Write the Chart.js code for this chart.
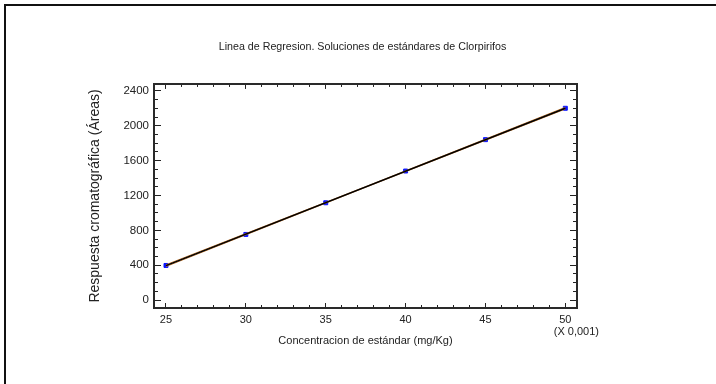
<!DOCTYPE html>
<html>
<head>
<meta charset="utf-8">
<script src="https://cdn.jsdelivr.net/npm/chart.js@4/dist/chart.umd.min.js"></script>
<style>
  html, body { margin: 0; padding: 0; background: #fff; }
  canvas { display: block; }
</style>
</head>
<body>
<canvas id="grafico" width="716" height="384"></canvas>
<script>
// Datos (concentracion en unidades de 0,001 mg/Kg)
const concentracion = [25, 30, 35, 40, 45, 50];
const areas = [398, 754, 1117, 1481, 1841, 2201];

// Recta ajustada y limites
const ajusteX = [25, 50];
const ajusteY = [396, 2202];
const limiteX = [25, 37.5, 50];
const limiteSup = [406, 1302, 2212];
const limiteInf = [386, 1295, 2192];

const xTicks = [25, 30, 35, 40, 45, 50];
const yTicks = [0, 400, 800, 1200, 1600, 2000, 2400];

const titulo = "Linea de Regresion. Soluciones de estándares de Clorpirifos";
const tituloX = "Concentracion de estándar (mg/Kg)";
const tituloY = "Respuesta cromatográfica (Áreas)";
const factorX = "(X 0,001)";

const SANS = "'Liberation Sans', Arial, sans-serif";
const INK = "#222";

const pares = (xs, ys) => xs.map((x, i) => ({x: x, y: ys[i]}));

// ejes con marcas hacia adentro; los "menor" solo ponen las marcas cortas
function ejeMarcas(pos, min, max, step, largo, borde, peso){
    return {
        type: "linear", position: pos, min: min, max: max, weight: peso,
        ticks: {display: false, stepSize: step, includeBounds: false},
        grid: {drawOnChartArea: false, tickLength: -largo, tickColor: INK, tickWidth: 1},
        border: {display: borde, color: "#2a2a2a", width: 2},
        afterFit: s => { if(s.isHorizontal()) s.height = 0; else s.width = 0; }
    };
}

const X_MIN = 24.25, X_MAX = 50.73, Y_MIN = -90, Y_MAX = 2480;

// marco exterior y nota del factor de escala
const marco = {
    id: "marco",
    beforeDraw(chart){
        const c = chart.ctx;
        c.save();
        c.fillStyle = "#fff"; c.fillRect(0, 0, chart.width, chart.height);
        c.strokeStyle = "#111"; c.lineWidth = 2;
        c.beginPath(); c.moveTo(5, chart.height); c.lineTo(5, 5); c.lineTo(chart.width, 5); c.stroke();
        c.restore();
    },
    afterDraw(chart){
        const c = chart.ctx, sx = chart.scales.x;
        c.save();
        c.font = "11px " + SANS; c.fillStyle = INK;
        c.textAlign = "center"; c.textBaseline = "middle";
        c.fillText(factorX, sx.getPixelForValue(xTicks[xTicks.length - 1]) + 11, 332);
        c.restore();
    }
};

new Chart(document.getElementById("grafico"), {
    type: "scatter",
    data: {
        datasets: [
            {label: "Ajuste", data: pares(ajusteX, ajusteY), showLine: true, borderColor: "#000", borderWidth: 1.6, pointRadius: 0},
            {label: "Lim. sup.", data: pares(limiteX, limiteSup), showLine: true, borderColor: "#c0742c", borderWidth: 1, pointRadius: 0},
            {label: "Lim. inf.", data: pares(limiteX, limiteInf), showLine: true, borderColor: "#c0742c", borderWidth: 1, pointRadius: 0},
            {label: "Areas", data: pares(concentracion, areas), pointStyle: "rect", pointRadius: 2.8, borderWidth: 1, backgroundColor: "#0a14ff", borderColor: "#0a14ff"}
        ]
    },
    options: {
        responsive: false, animation: false, events: [],
        layout: {padding: {left: 9, right: 0, top: 0, bottom: 0}},
        plugins: {
            legend: {display: false}, tooltip: {enabled: false},
            title: {display: true, text: titulo, color: INK, font: {family: SANS, size: 10.7, weight: "normal"}, padding: {top: 41.1, bottom: 30}}
        },
        scales: {
            x: {
                type: "linear", position: "bottom", min: X_MIN, max: X_MAX,
                afterBuildTicks: s => { s.ticks = xTicks.map(v => ({value: v})); },
                ticks: {color: INK, font: {family: SANS, size: 11}, padding: 10, maxRotation: 0, callback: v => String(v)},
                grid: {drawOnChartArea: false, tickLength: -5, tickColor: INK, tickWidth: 1},
                border: {color: "#2a2a2a", width: 2},
                title: {display: true, text: tituloX, color: INK, font: {family: SANS, size: 11}, padding: {top: 0, bottom: 36.4}},
                afterFit: s => { s.height = 76; }
            },
            y: {
                type: "linear", position: "left", min: Y_MIN, max: Y_MAX,
                afterBuildTicks: s => { s.ticks = yTicks.map(v => ({value: v})); },
                ticks: {color: INK, font: {family: SANS, size: 11.5}, padding: 12, callback: v => String(v)},
                grid: {drawOnChartArea: false, tickLength: -7, tickColor: INK, tickWidth: 1},
                border: {color: "#2a2a2a", width: 2},
                title: {display: true, text: tituloY, color: INK, font: {family: SANS, size: 14}, padding: {top: 78.2, bottom: 0}},
                afterFit: s => { s.width = 145; }
            },
            xMenor: ejeMarcas("bottom", X_MIN, X_MAX, 1, 3, false, -1),
            yMenor: ejeMarcas("left", Y_MIN, Y_MAX, 100, 4, false, -1),
            xSup: ejeMarcas("top", X_MIN, X_MAX, 5, 5, true, 0),
            xSupMenor: ejeMarcas("top", X_MIN, X_MAX, 1, 3, false, -1),
            ySup: Object.assign(ejeMarcas("right", Y_MIN, Y_MAX, 400, 7, true, 0), {afterFit: s => { s.width = 139; }}),
            ySupMenor: ejeMarcas("right", Y_MIN, Y_MAX, 100, 4, false, -1)
        }
    },
    plugins: [marco]
});
</script>
</body>
</html>
